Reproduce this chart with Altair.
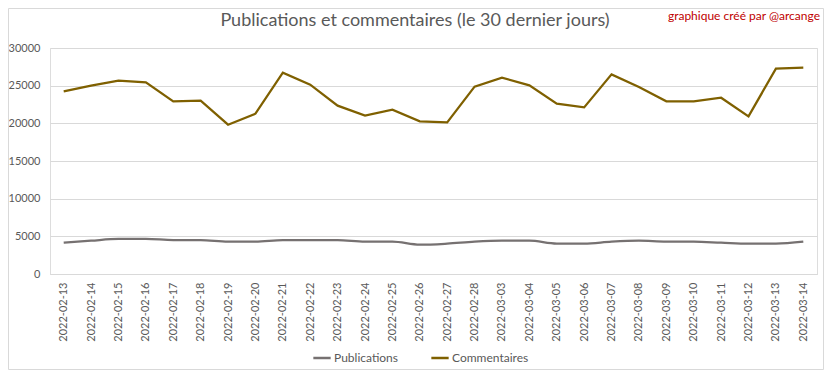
import altair as alt
import pandas as pd

dates = ["2022-02-13", "2022-02-14", "2022-02-15", "2022-02-16", "2022-02-17", "2022-02-18",
         "2022-02-19", "2022-02-20", "2022-02-21", "2022-02-22", "2022-02-23", "2022-02-24",
         "2022-02-25", "2022-02-26", "2022-02-27", "2022-02-28", "2022-03-03", "2022-03-04",
         "2022-03-05", "2022-03-06", "2022-03-07", "2022-03-08", "2022-03-09", "2022-03-10",
         "2022-03-11", "2022-03-12", "2022-03-13", "2022-03-14"]
publications = [4160, 4420, 4650, 4650, 4510, 4510, 4290, 4290, 4510, 4510, 4510, 4290,
                4290, 3890, 4030, 4290, 4420, 4420, 4030, 4030, 4290, 4420, 4290, 4290,
                4160, 4030, 4030, 4290]
commentaires = [24250, 25000, 25660, 25440, 22920, 23010, 19820, 21280, 26730, 25130, 22350, 21020,
                21810, 20270, 20130, 24870, 26060, 25040, 22610, 22120, 26500, 24820, 22920, 22920,
                23400, 20930, 27260, 27390]
series = ["Publications", "Commentaires"]
colors = ["#767171", "#7f6000"]
y_ticks = [0, 5000, 10000, 15000, 20000, 25000, 30000]
title_text = "Publications et commentaires (le 30 dernier jours)"
note_text = "graphique créé par @arcange"

rows = []
for d, p, c in zip(dates, publications, commentaires):
    rows.append({"date": d, "serie": "Publications", "valeur": p})
    rows.append({"date": d, "serie": "Commentaires", "valeur": c})
df = pd.DataFrame(rows)

W, H = 767, 226
FONT = "Lato"
GREY = "#595959"

x_enc = alt.X("date:O", sort=dates, title=None,
              scale=alt.Scale(type="point", padding=0.5),
              axis=alt.Axis(labelAngle=270, labelFontSize=11, labelColor=GREY, labelFont=FONT,
                            ticks=False, domainColor="#d9d9d9", labelPadding=8, grid=False))
y_enc = alt.Y("valeur:Q", title=None,
              scale=alt.Scale(domain=[0, 30000], nice=False),
              axis=alt.Axis(values=y_ticks, labelFontSize=11, labelColor=GREY, labelFont=FONT,
                            ticks=False, domain=False, gridColor="#d9d9d9", labelPadding=10,
                            format="d"))
color_enc = alt.Color("serie:N", title=None,
                      scale=alt.Scale(domain=series, range=colors),
                      legend=alt.Legend(orient="none", direction="horizontal",
                                        legendX=262, legendY=300,
                                        symbolType="stroke", symbolStrokeWidth=2.5,
                                        symbolSize=300, labelFont=FONT, labelFontSize=12,
                                        labelColor=GREY, columnPadding=28, labelOffset=2))

base = alt.Chart(df)
pub = base.transform_filter(alt.datum.serie == "Publications").mark_line(
    strokeWidth=2.25, interpolate="monotone").encode(x=x_enc, y=y_enc, color=color_enc)
com = base.transform_filter(alt.datum.serie == "Commentaires").mark_line(
    strokeWidth=2.25).encode(x=x_enc, y=y_enc, color=color_enc)

note_df = pd.DataFrame({"t": [note_text]})
note = alt.Chart(note_df).mark_text(font=FONT, fontSize=12, color="#c00000",
                                    align="right", baseline="middle").encode(
    x=alt.value(770), y=alt.value(-32), text="t:N")

title_df = pd.DataFrame({"t": [title_text]})
title = alt.Chart(title_df).mark_text(font=FONT, fontSize=18, color=GREY,
                                      align="center", baseline="middle").encode(
    x=alt.value(365), y=alt.value(-27), text="t:N")

border_df = pd.DataFrame({"b": [1]})
border = alt.Chart(border_df).mark_rect(fill=None, stroke="#d9d9d9", strokeWidth=1).encode(
    x=alt.value(-41.5), x2=alt.value(W + 6.5), y=alt.value(-39.5), y2=alt.value(H + 95.5))

chart = alt.layer(border, pub, com, note, title).properties(
    width=W, height=H,
    autosize=alt.AutoSizeParams(type="none"),
    padding={"left": 42, "top": 40, "right": 7, "bottom": 96},
).configure_view(stroke=None).configure(background="white")

chart.save("out.html", embed_options={"renderer": "svg", "actions": False})
